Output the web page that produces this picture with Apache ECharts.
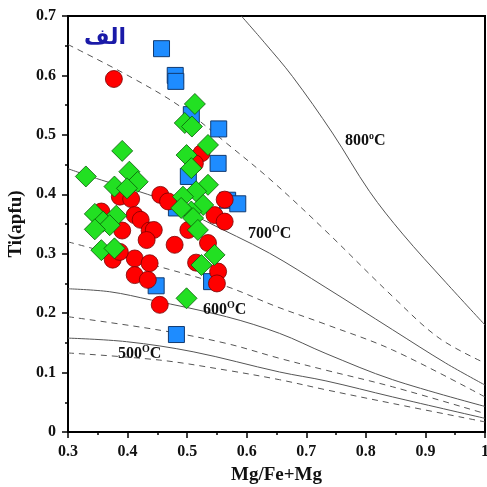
<!DOCTYPE html>
<html>
<head>
<meta charset="utf-8">
<script src="https://cdn.jsdelivr.net/npm/echarts@6/dist/echarts.min.js"></script>
<style>
  html, body { margin: 0; padding: 0; background: #fff; }
  #main { width: 487px; height: 487px; }
</style>
</head>
<body>
<div id="main"></div>
<script>
// 坐标轴刻度
const xTicks = [0.3, 0.4, 0.5, 0.6, 0.7, 0.8, 0.9, 1]
const yTicks = [0, 0.1, 0.2, 0.3, 0.4, 0.5, 0.6, 0.7]

// 等温线 (实线 / 虚线), [Mg/Fe+Mg, Ti]
const iso800 = [[0.591, 0.70], [0.63, 0.655], [0.677, 0.598], [0.744, 0.503], [0.806, 0.405], [0.862, 0.333], [0.934, 0.252], [1.0, 0.18]]
const dashA = [[0.3, 0.652], [0.404, 0.598], [0.488, 0.548], [0.566, 0.486], [0.644, 0.421], [0.733, 0.338], [0.845, 0.228], [0.923, 0.158], [1.0, 0.116]]
const iso700 = [[0.3, 0.443], [0.356, 0.424], [0.412, 0.407], [0.454, 0.393], [0.484, 0.382], [0.527, 0.357], [0.638, 0.301], [0.733, 0.243], [0.845, 0.172], [0.934, 0.116], [1.0, 0.079]]
const dashB = [[0.3, 0.32], [0.454, 0.278], [0.566, 0.245], [0.65, 0.211], [0.733, 0.181], [0.845, 0.138], [1.0, 0.059]]
const iso600 = [[0.3, 0.241], [0.37, 0.236], [0.44, 0.222], [0.566, 0.194], [0.655, 0.166], [0.733, 0.132], [0.845, 0.088], [1.0, 0.043]]
const dashC = [[0.3, 0.194], [0.456, 0.171], [0.566, 0.149], [0.655, 0.124], [0.733, 0.104], [0.845, 0.076], [1.0, 0.031]]
const iso500 = [[0.3, 0.158], [0.398, 0.152], [0.51, 0.135], [0.655, 0.101], [0.733, 0.086], [0.845, 0.059], [1.0, 0.023]]
const dashD = [[0.3, 0.133], [0.454, 0.121], [0.566, 0.104], [0.655, 0.088], [0.733, 0.071], [0.845, 0.048], [1.0, 0.017]]

// 样品点
const blueSquares = [
  [0.457, 0.645], [0.480, 0.600], [0.481, 0.590], [0.507, 0.534], [0.553, 0.510],
  [0.552, 0.452], [0.502, 0.430], [0.568, 0.390], [0.585, 0.384], [0.482, 0.377],
  [0.448, 0.246], [0.482, 0.164], [0.541, 0.253]
]
const redCircles = [
  [0.377, 0.594],
  [0.387, 0.396], [0.406, 0.392], [0.455, 0.399], [0.468, 0.388],
  [0.356, 0.371], [0.412, 0.365], [0.422, 0.357],
  [0.391, 0.339], [0.437, 0.339], [0.444, 0.340], [0.432, 0.323], [0.479, 0.315],
  [0.524, 0.469], [0.513, 0.452], [0.563, 0.391], [0.546, 0.365], [0.563, 0.354],
  [0.502, 0.340], [0.535, 0.318],
  [0.552, 0.270], [0.550, 0.250], [0.515, 0.285], [0.454, 0.214],
  [0.375, 0.290], [0.412, 0.292], [0.437, 0.284], [0.412, 0.264], [0.434, 0.256], [0.387, 0.303]
]
const greenDiamonds = [
  [0.513, 0.552], [0.496, 0.520], [0.508, 0.514],
  [0.535, 0.483], [0.499, 0.466], [0.507, 0.444],
  [0.391, 0.473], [0.330, 0.430], [0.403, 0.438], [0.417, 0.421], [0.378, 0.413], [0.399, 0.410],
  [0.345, 0.367], [0.381, 0.364], [0.359, 0.354], [0.370, 0.348], [0.345, 0.341],
  [0.356, 0.306], [0.378, 0.309],
  [0.535, 0.416], [0.515, 0.405], [0.493, 0.396], [0.527, 0.382], [0.507, 0.371],
  [0.490, 0.377], [0.510, 0.360], [0.518, 0.340],
  [0.546, 0.298], [0.524, 0.281], [0.499, 0.225]
]

const serif = 'Liberation Serif'

function curve(data, dashed) {
  return {
    type: 'line',
    data: data,
    smooth: 0.35,
    symbol: 'none',
    silent: true,
    z: 1,
    lineStyle: { color: '#555', width: 1, type: dashed ? [6, 5] : 'solid' }
  }
}

function tempLabel(x, y, num, sup) {
  return {
    type: 'text',
    left: x,
    top: y,
    z: 10,
    style: {
      text: '{n|' + num + '}{s|' + sup + '}{n|C}',
      rich: {
        n: { fontFamily: serif, fontWeight: 'bold', fontSize: 16, lineHeight: 18, verticalAlign: 'bottom', fill: '#111' },
        s: { fontFamily: serif, fontWeight: 'bold', fontSize: 10, lineHeight: 10, verticalAlign: 'top', fill: '#111' }
      }
    }
  }
}

const chart = echarts.init(document.getElementById('main'))

const axisCommon = {
  type: 'value',
  interval: 0.1,
  axisLine: { show: true, onZero: false, lineStyle: { color: '#000', width: 2 } },
  axisTick: { show: true, inside: false, length: 6, lineStyle: { color: '#000', width: 1.5 } },
  minorTick: { show: true, splitNumber: 2, length: 3, lineStyle: { color: '#000', width: 1.5 } },
  splitLine: { show: false },
  nameLocation: 'middle',
  nameTextStyle: { fontFamily: serif, fontWeight: 'bold', fontSize: 19, color: '#111' }
}

chart.setOption({
  animation: false,
  grid: {
    left: 68, right: 2, top: 16, bottom: 55,
    outerBoundsMode: 'none',
    containLabel: false,
    show: true, borderColor: '#000', borderWidth: 2
  },
  xAxis: Object.assign({}, axisCommon, {
    min: xTicks[0],
    max: xTicks[xTicks.length - 1],
    name: 'Mg/Fe+Mg',
    nameGap: 34,
    axisLabel: { margin: 12, fontFamily: serif, fontWeight: 'bold', fontSize: 16, color: '#111' }
  }),
  yAxis: Object.assign({}, axisCommon, {
    min: yTicks[0],
    max: yTicks[yTicks.length - 1],
    name: 'Ti(apfu)',
    nameGap: 40,
    axisLabel: { margin: 12, fontFamily: serif, fontWeight: 'bold', fontSize: 16, color: '#111' }
  }),
  series: [
    curve(iso800, false), curve(dashA, true),
    curve(iso700, false), curve(dashB, true),
    curve(iso600, false), curve(dashC, true),
    curve(iso500, false), curve(dashD, true),
    {
      type: 'scatter', data: blueSquares, symbol: 'rect', symbolSize: 16, z: 3,
      itemStyle: { color: '#1e8cff', borderColor: '#123a70', borderWidth: 1, opacity: 1 }
    },
    {
      type: 'scatter', data: redCircles, symbol: 'circle', symbolSize: 17, z: 4,
      itemStyle: { color: '#ff0000', borderColor: '#7a0000', borderWidth: 0.8, opacity: 1 }
    },
    {
      type: 'scatter', data: greenDiamonds, symbol: 'diamond', symbolSize: [21, 21], z: 5,
      itemStyle: { color: '#22e022', borderColor: '#0a5a0a', borderWidth: 0.8, opacity: 1 }
    }
  ],
  graphic: [
    {
      type: 'text', left: 84, top: 27, z: 10,
      style: { text: 'الف', fontFamily: 'DejaVu Sans', fontWeight: 'bold', fontSize: 22, fill: '#1a1aa8' }
    },
    tempLabel(345, 131, '800', 'o'),
    tempLabel(248, 224, '700', 'O'),
    tempLabel(203, 300, '600', 'O'),
    tempLabel(118, 344, '500', 'O')
  ]
})
</script>
</body>
</html>
